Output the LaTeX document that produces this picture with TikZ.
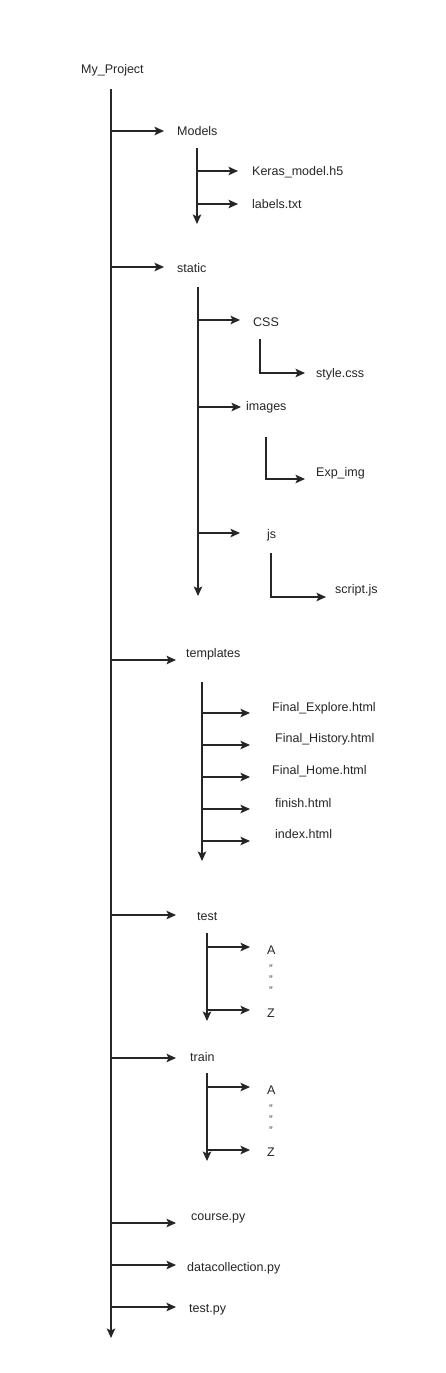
\documentclass[tikz,border=0pt]{standalone}
\usepackage{fontspec}
\setmainfont{Liberation Sans}
\usetikzlibrary{arrows.meta}
\begin{document}
\begin{tikzpicture}[x=1pt,y=-1pt,
  lbl/.style={anchor=west,inner sep=0pt,font=\fontsize{12.5}{15}\selectfont,text=black!85},
  dq/.style={inner sep=0pt,font=\fontsize{11}{11}\selectfont,text=black!75},
  ln/.style={line width=1.1pt,draw=black!85},
  arr/.style={ln,-{Stealth[length=9.5pt,width=8.5pt,inset=2pt]}}]
\useasboundingbox[fill=white] (0,0) rectangle (446,1373);
% labels
\node[lbl] (root) at (81,70) {My\_Project};
\node[lbl] (models) at (177,131) {Models};
\node[lbl] (keras) at (252,172) {Keras\_model.h5};
\node[lbl] (labels) at (252,204) {labels.txt};
\node[lbl] (static) at (177,268) {static};
\node[lbl] (css) at (253,322) {CSS};
\node[lbl] (style) at (316,374) {style.css};
\node[lbl] (images) at (246,407) {images};
\node[lbl] (exp) at (316,473) {Exp\_img};
\node[lbl] (js) at (267,535) {js};
\node[lbl] (script) at (335,590) {script.js};
\node[lbl] (templates) at (186,654) {templates};
\node[lbl] (fexp) at (272,708) {Final\_Explore.html};
\node[lbl] (fhis) at (275,739) {Final\_History.html};
\node[lbl] (fhom) at (272,771) {Final\_Home.html};
\node[lbl] (finish) at (275,803) {finish.html};
\node[lbl] (index) at (275,834) {index.html};
\node[lbl] (test) at (197,917) {test};
\node[lbl] (tA) at (267,950) {A};
\node[dq] (td1) at (271,969) {"};
\node[dq] (td2) at (271,980) {"};
\node[dq] (td3) at (271,991) {"};
\node[lbl] (tZ) at (267,1013) {Z};
\node[lbl] (train) at (190,1057) {train};
\node[lbl] (rA) at (267,1090) {A};
\node[dq] (rd1) at (271,1109) {"};
\node[dq] (rd2) at (271,1120) {"};
\node[dq] (rd3) at (271,1131) {"};
\node[lbl] (rZ) at (267,1152) {Z};
\node[lbl] (course) at (191,1218) {course.py};
\node[lbl] (datacol) at (187,1268) {datacollection.py};
\node[lbl] (testpy) at (189,1310) {test.py};
% trunks
\coordinate (m0) at (111,89);
\coordinate (m1) at (111,1338);
\draw[arr] (m0) -- (m1);
\draw[arr] (197,148) -- (197,224);
\draw[arr] (198,287) -- (198,596);
\draw[arr] (202,682) -- (202,861);
\draw[arr] (207,933) -- (207,1021);
\draw[arr] (207,1073) -- (207,1161);
% main branches
\foreach \y in {131,267}
  \draw[arr] (111,\y) -- (164,\y);
\foreach \y in {660,915,1058,1223,1265,1307}
  \draw[arr] (111,\y) -- (176,\y);
% models
\draw[arr] (197,171) -- (238,171);
\draw[arr] (197,204) -- (238,204);
% static
\draw[arr] (198,320) -- (240,320);
\draw[arr] (198,407) -- (241,407);
\draw[arr] (198,533) -- (240,533);
\draw[arr] (260,339) |- (305,373);
\draw[arr] (266,437) |- (305,479);
\draw[arr] (271,553) |- (326,597);
% templates
\foreach \y in {713,745,777,809,841}
  \draw[arr] (202,\y) -- (250,\y);
% test / train
\foreach \y in {947,1010,1087,1150}
  \draw[arr] (207,\y) -- (250,\y);
\end{tikzpicture}
\end{document}
